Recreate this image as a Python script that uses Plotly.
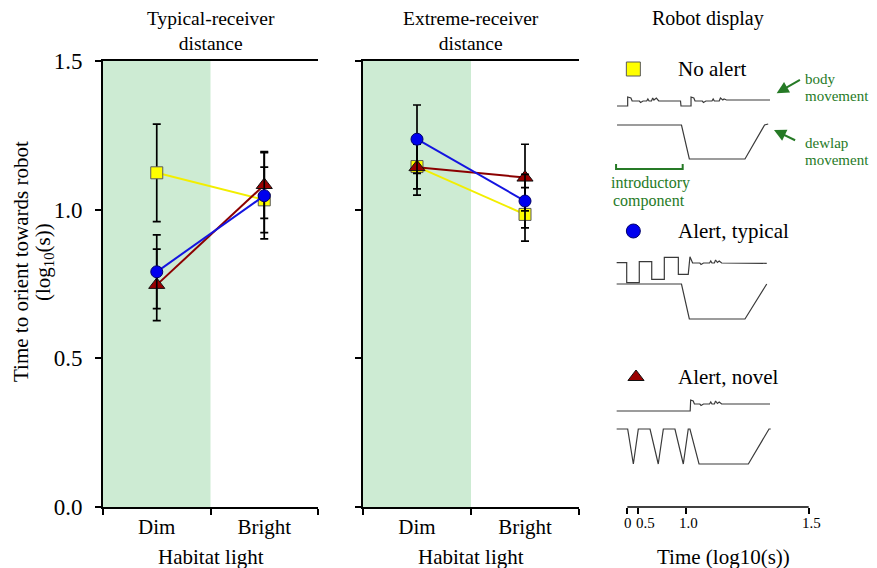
import plotly.graph_objects as go

# ---------------- data ----------------
conditions = ["Dim", "Bright"]
cat_pos = [0.5, 1.5]
cat_ticks = [0, 1, 2]

# Typical-receiver distance
typ_no_alert = [1.124, 1.033]
typ_no_alert_err = [0.164, 0.110]
typ_alert_typical = [0.791, 1.047]
typ_alert_typical_err = [0.124, 0.145]
typ_alert_novel = [0.747, 1.083]
typ_alert_novel_err = [0.120, 0.112]

# Extreme-receiver distance
ext_no_alert = [1.145, 0.984]
ext_no_alert_err = [0.075, 0.090]
ext_alert_typical = [1.237, 1.029]
ext_alert_typical_err = [0.115, 0.090]
ext_alert_novel = [1.143, 1.108]
ext_alert_novel_err = [0.094, 0.112]

y_ticks = [0.0, 0.5, 1.0, 1.5]
y_tick_text = ["0.0", "0.5", "1.0", "1.5"]

# Robot display schematic (time axis units, arbitrary vertical units)
robot_tick_pos = [0, 0.091, 0.483, 1.5]
robot_tick_text = ["0", "0.5", "1.0", "1.5"]
robot_tick_label_pos = [0.004, 0.15, 0.502, 1.527]

body_none_t = [-0.085, 0.003, 0.003, 0.03, 0.04, 0.10, 0.11, 0.13, 0.16, 0.17, 0.18, 0.20, 0.21, 0.22,
               0.24, 0.26, 0.30, 0.44, 0.444, 0.527, 0.527, 0.55, 0.56, 0.62, 0.63, 0.65, 0.70, 0.71,
               0.72, 0.76, 0.77, 0.79, 0.80, 0.82, 1.18]
body_none_y = [401, 401, 410, 409, 406, 406, 404.5, 406, 406, 408, 406, 406, 409, 407,
               409, 406, 406, 406, 401, 401, 410, 409, 406, 406, 404.5, 406, 406, 408,
               406, 406, 409, 407, 408, 407, 407]
dewlap_none_t = [-0.085, 0.448, 0.513, 0.973, 1.135, 1.165]
dewlap_none_y = [382, 382, 348, 348, 382, 383]

body_typ_t = [-0.088, -0.005, -0.005, 0.099, 0.099, 0.202, 0.202, 0.306, 0.306, 0.422, 0.422, 0.504,
              0.518, 0.53, 0.54, 0.60, 0.61, 0.63, 0.68, 0.69, 0.70, 0.72, 0.73, 0.745, 0.76, 0.78, 1.153]
body_typ_y = [244.3, 244.3, 224.3, 224.3, 245.3, 245.3, 227.7, 227.7, 249.7, 249.7, 232.7, 232.7,
              250.3, 246, 244, 244, 242.5, 244, 244, 246, 244, 244, 247, 244.5, 246, 244, 243.7]
dewlap_typ_t = [-0.088, 0.448, 0.513, 0.973, 1.153]
dewlap_typ_y = [223, 223, 188, 188, 223]

body_nov_t = [-0.088, 0.52, 0.524, 0.545, 0.555, 0.60, 0.61, 0.63, 0.68, 0.69, 0.70, 0.72, 0.73,
              0.745, 0.76, 0.78, 1.18]
body_nov_y = [96, 96, 107, 106, 103, 103, 101.5, 103, 103, 105, 103, 103, 106, 103.5, 105, 103, 103]
dewlap_nov_t = [-0.088, 0.003, 0.050, 0.091, 0.188, 0.256, 0.298, 0.394, 0.463, 0.504, 0.518, 0.593,
                1.001, 1.172, 1.186]
dewlap_nov_y = [78, 78, 43, 78, 78, 43, 78, 78, 43, 78, 78, 43, 43, 78, 78]

bracket_t = [-0.093, -0.093, 0.458, 0.458]
bracket_y = [343, 338, 338, 343]

legend_labels = ["No alert", "Alert, typical", "Alert, novel"]
legend_sym_t = [0.05, 0.05, 0.072]
legend_sym_y = [438, 276, 130]
legend_text_t = 0.403

# ---------------- styles ----------------
FONT = "Liberation Serif"
GREEN = "#267a26"
SHADE = "#cdebd3"
styles = {
    "none": dict(symbol="square", size=12, color="#ffff00", line=dict(color="#5a5a5a", width=1), lc="#f2ee00"),
    "typ": dict(symbol="circle", size=12, color="#0000ee", line=dict(color="#00006b", width=1), lc="#1414e0"),
    "nov": dict(symbol="triangle-up", size=14, color="#990000", line=dict(color="#111111", width=1), lc="#8b0000"),
}

# page body has an 8px margin: the figure is laid out in window pixels shifted by it
OFF = 8
W, H = 877 - OFF, 568 - OFF


def px(p):
    return (p - OFF) / W


def py(p):
    return (568 - p) / H


fig = go.Figure()


def add_series(xa, ya, y, err, key):
    s = styles[key]
    fig.add_trace(go.Scatter(
        x=cat_pos, y=y, xaxis=xa, yaxis=ya, mode="lines+markers",
        line=dict(color=s["lc"], width=2),
        marker=dict(symbol=s["symbol"], size=s["size"], color=s["color"], line=s["line"]),
        error_y=dict(type="data", array=err, color="black", thickness=1.7, width=4),
        showlegend=False, hoverinfo="skip"))


add_series("x", "y", typ_no_alert, typ_no_alert_err, "none")
add_series("x", "y", typ_alert_novel, typ_alert_novel_err, "nov")
add_series("x", "y", typ_alert_typical, typ_alert_typical_err, "typ")
add_series("x2", "y2", ext_no_alert, ext_no_alert_err, "none")
add_series("x2", "y2", ext_alert_novel, ext_alert_novel_err, "nov")
add_series("x2", "y2", ext_alert_typical, ext_alert_typical_err, "typ")

# robot waveforms
for tt, yy in [(body_none_t, body_none_y), (dewlap_none_t, dewlap_none_y),
               (body_typ_t, body_typ_y), (dewlap_typ_t, dewlap_typ_y),
               (body_nov_t, body_nov_y), (dewlap_nov_t, dewlap_nov_y)]:
    fig.add_trace(go.Scatter(x=tt, y=yy, xaxis="x3", yaxis="y3", mode="lines",
                             line=dict(color="#3a3a3a", width=1.2), showlegend=False, hoverinfo="skip"))
fig.add_trace(go.Scatter(x=bracket_t, y=bracket_y, xaxis="x3", yaxis="y3", mode="lines",
                         line=dict(color=GREEN, width=2), showlegend=False, hoverinfo="skip"))
for i, key in enumerate(["none", "typ", "nov"]):
    s = styles[key]
    fig.add_trace(go.Scatter(x=[legend_sym_t[i]], y=[legend_sym_y[i]], xaxis="x3", yaxis="y3", mode="markers",
                             marker=dict(symbol=s["symbol"], size=14, color=s["color"],
                                         line=dict(color=s["line"]["color"], width=1)),
                             showlegend=False, hoverinfo="skip"))

# ---------------- layout ----------------
yd = [py(507), py(61)]
x1d = [px(103), px(318)]
x2d = [px(363), px(579)]
x3d = [px(600), 1.0]

xax = dict(range=[0, 2], tickvals=cat_pos, ticktext=conditions, ticks="", showline=True, linecolor="black",
           linewidth=1.6, mirror=True, showgrid=False, zeroline=False, automargin=False,
           tickfont=dict(family=FONT, size=21, color="black"),
           minor=dict(tickvals=cat_ticks, ticks="outside", ticklen=6, tickcolor="black", tickwidth=1.6))
yax = dict(range=[0, 1.5], tickvals=y_ticks, ticktext=y_tick_text, ticks="outside", ticklen=6,
           tickcolor="black", tickwidth=1.6, showline=True, linecolor="black", linewidth=1.6,
           showgrid=False, zeroline=False, automargin=False, ticklabelstandoff=8,
           tickfont=dict(family=FONT, size=23, color="black"))

fig.update_layout(
    width=W, height=H, margin=dict(l=0, r=0, t=0, b=0, autoexpand=False),
    paper_bgcolor="white", plot_bgcolor="rgba(0,0,0,0)",
    font=dict(family=FONT, color="black"),
    xaxis=dict(domain=x1d, anchor="y", **xax),
    yaxis=dict(domain=yd, anchor="x", **yax),
    xaxis2=dict(domain=x2d, anchor="y2", **xax),
    yaxis2=dict(domain=yd, anchor="x2", showticklabels=False, **yax),
    xaxis3=dict(domain=x3d, anchor="y3", range=[-0.2258, 2.0648], tickvals=robot_tick_pos,
                ticks="outside", ticklen=6, tickcolor="black", tickwidth=1.6, showticklabels=False,
                showline=False, showgrid=False, zeroline=False, automargin=False),
    yaxis3=dict(domain=yd, anchor="x3", range=[0, 446], visible=False, automargin=False),
)

shapes = [
    dict(type="rect", xref="x", yref="y domain", x0=0, x1=1, y0=0, y1=1, fillcolor=SHADE,
         line=dict(width=0), layer="below"),
    dict(type="rect", xref="x2", yref="y2 domain", x0=0, x1=1, y0=0, y1=1, fillcolor=SHADE,
         line=dict(width=0), layer="below"),
    dict(type="line", xref="x3", yref="paper", x0=0, x1=1.5, y0=yd[0], y1=yd[0],
         line=dict(color="black", width=1.6)),
]
fig.update_layout(shapes=shapes)

ann = []


def txt(text, x, y, xref="paper", yref="paper", size=21, color="black", xanchor="center", yanchor="middle",
        angle=0):
    ann.append(dict(text=text, x=x, y=y, xref=xref, yref=yref, showarrow=False, xanchor=xanchor,
                    yanchor=yanchor, textangle=angle, font=dict(family=FONT, size=size, color=color)))


txt("Typical-receiver<br>distance", px(210.5), py(31.5), size=19.5)
txt("Extreme-receiver<br>distance", px(471), py(31.5), size=19.5)
txt("Robot display", px(708), py(18), size=20)
txt("Habitat light", px(210.5), py(557))
txt("Habitat light", px(471), py(557))
txt("Time (log10(s))", px(723), py(557))
txt("Time to orient towards robot", px(21), py(262), angle=-90)
txt("(log<sub>10</sub>(s))", px(44), py(262), angle=-90)

for lab, pos in zip(robot_tick_text, robot_tick_label_pos):
    txt(lab, pos, py(523), xref="x3", size=15)

for lab, yy in zip(legend_labels, legend_sym_y):
    txt(lab, legend_text_t, yy, xref="x3", yref="y3", xanchor="left")

GX = 1.455
txt("body", GX, 507 - 79, xref="x3", yref="y3", size=15, color=GREEN, xanchor="left")
txt("movement", GX, 507 - 96, xref="x3", yref="y3", size=15, color=GREEN, xanchor="left")
txt("dewlap", GX, 507 - 143, xref="x3", yref="y3", size=15, color=GREEN, xanchor="left")
txt("movement", GX, 507 - 160, xref="x3", yref="y3", size=15, color=GREEN, xanchor="left")
txt("introductory", 0.188, 507 - 183, xref="x3", yref="y3", size=16, color=GREEN)
txt("component", 0.180, 507 - 201, xref="x3", yref="y3", size=16, color=GREEN)

for tip, tail in [((1.235, 507 - 93.3), (1.44, 507 - 79)), ((1.213, 507 - 130), (1.40, 507 - 141))]:
    ann.append(dict(x=tip[0], y=tip[1], ax=tail[0], ay=tail[1], xref="x3", yref="y3", axref="x3", ayref="y3",
                    showarrow=True, arrowhead=2, arrowsize=1.2, arrowwidth=2, arrowcolor=GREEN, text=""))

fig.update_layout(annotations=ann)
fig.write_html("out.html")
